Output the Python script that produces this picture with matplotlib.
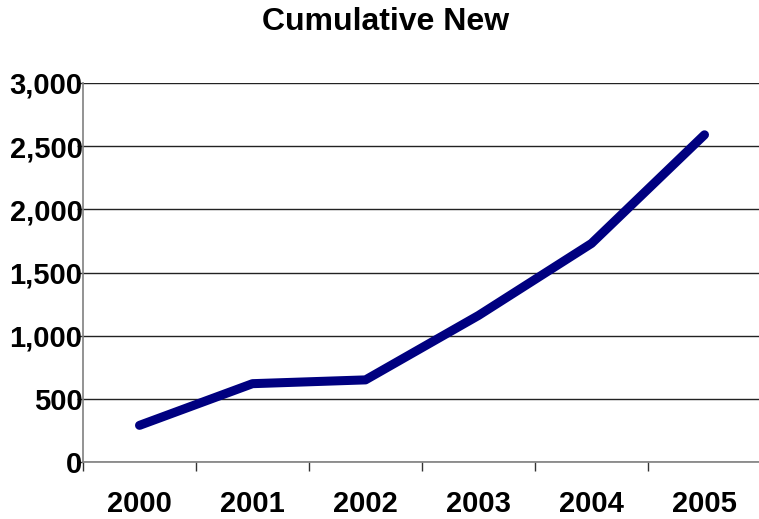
import matplotlib.pyplot as plt
from matplotlib.ticker import FuncFormatter, MultipleLocator

plt.rcParams['font.family'] = ['Liberation Sans', 'DejaVu Sans']

# Cumulative totals per year
years = ['2000', '2001', '2002', '2003', '2004', '2005']
cumulative = [290, 620, 650, 1160, 1730, 2590]

fig = plt.figure(figsize=(7.59, 5.19), dpi=100)
# the plot area runs past the right edge of the figure
ax = fig.add_axes([83 / 759, 57 / 519, 678 / 759, 379 / 519])

x = list(range(len(years)))
ax.plot(x, cumulative, color='#000080', linewidth=6.5,
        solid_capstyle='round', solid_joinstyle='round', zorder=3)

ax.set_xlim(-0.5, len(years) - 0.5)
ax.set_ylim(0, 3000)
ax.yaxis.set_major_locator(MultipleLocator(500))
ax.yaxis.set_major_formatter(FuncFormatter(lambda v, p: f'{int(v):,}'))
ax.grid(axis='y', color='#222222', linewidth=1.0)
ax.set_axisbelow(True)

for s in ['top', 'right']:
    ax.spines[s].set_visible(False)
for s in ['left', 'bottom']:
    ax.spines[s].set_color('#808080')
    ax.spines[s].set_linewidth(1.2)

# year labels centred in each slot, tick marks between slots
ax.set_xticks(x)
ax.set_xticklabels(years)
ax.set_xticks([i - 0.5 for i in range(len(years) + 1)], minor=True)
ax.tick_params(axis='x', which='major', length=0, pad=20)
ax.tick_params(axis='x', which='minor', length=6.5, color='#333333', width=1)
ax.tick_params(axis='y', length=4.3, color='#333333', width=1, pad=-4)

for lbl in ax.get_xticklabels():
    lbl.set_fontsize(21)
    lbl.set_fontweight('bold')
for lbl in ax.get_yticklabels():
    lbl.set_fontsize(21)
    lbl.set_fontweight('bold')

fig.text(386 / 759, 1 - 22 / 519, 'Cumulative New', ha='center', va='center',
         fontsize=23, fontweight='bold')

fig.savefig('out.png', dpi=100)
